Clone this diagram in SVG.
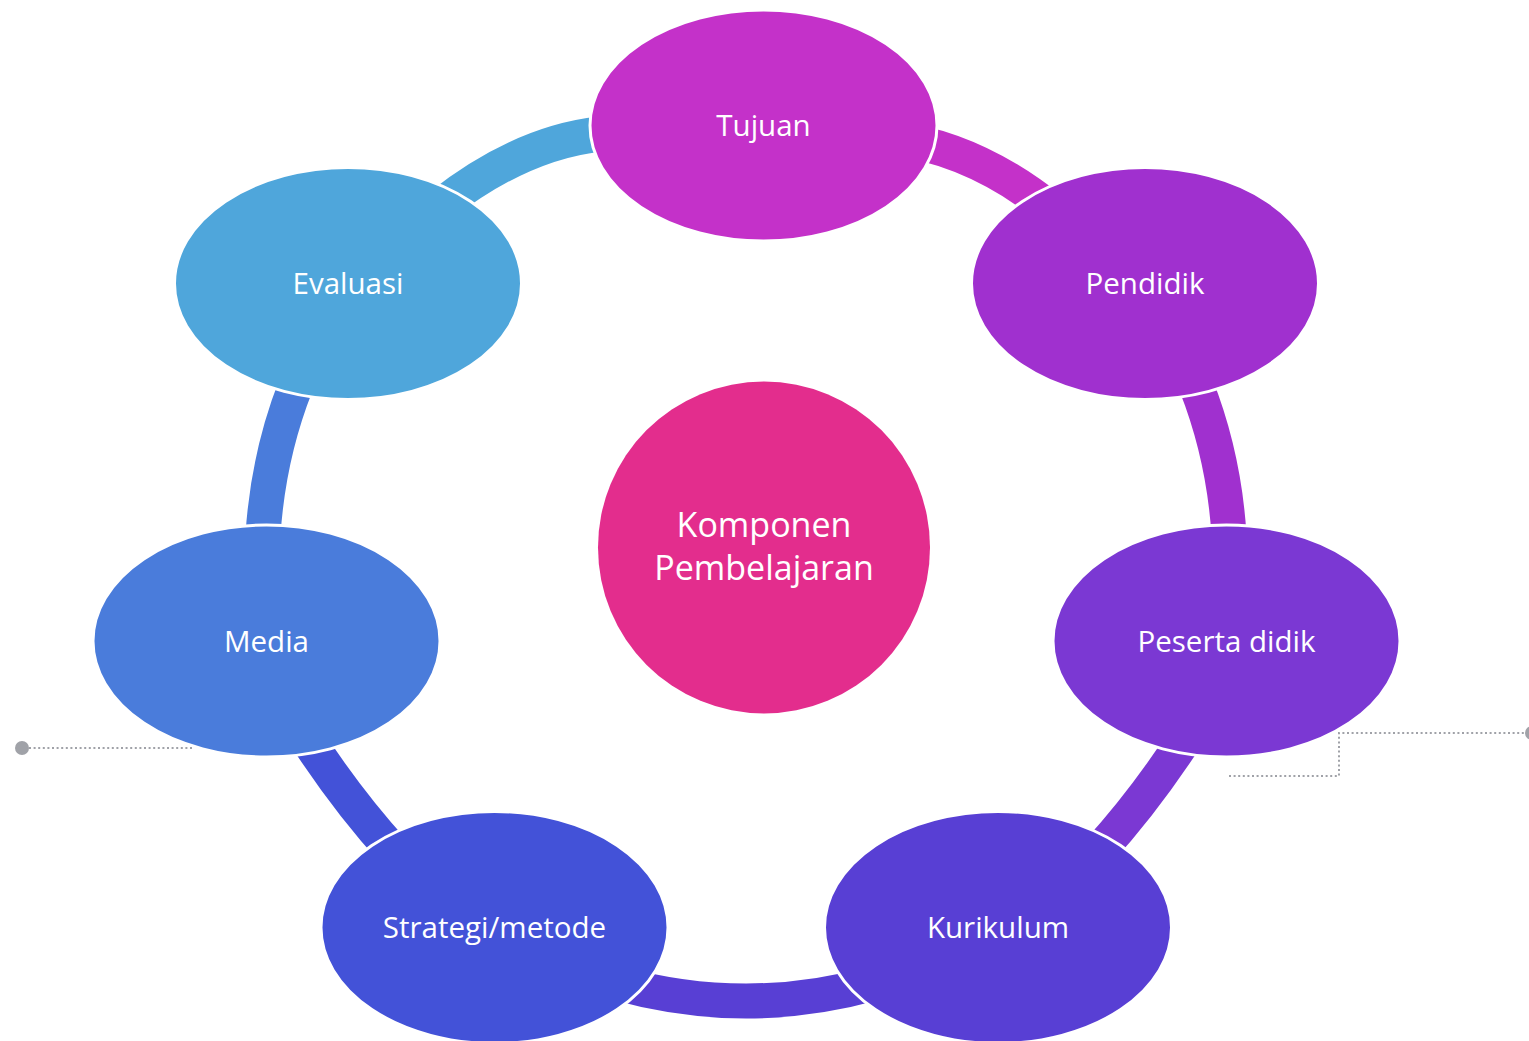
<svg xmlns="http://www.w3.org/2000/svg" width="1529" height="1041" viewBox="0 0 1529 1041">
<style>
.arc{fill:none;stroke-width:35;stroke-linecap:butt}
.node{stroke:#ffffff;stroke-width:3}
.lbl{font-family:"Open Sans","Noto Sans","Liberation Sans",sans-serif;fill:#ffffff;text-anchor:middle;font-size:29.5px}
.big{font-size:34px}
.dot{fill:none;stroke:#A0A2A8;stroke-width:2;stroke-dasharray:2 2.6}
</style>
<rect width="1529" height="1041" fill="#ffffff"/>
<g id="decor">
<path class="dot" d="M29 748 H192"/>
<circle cx="22" cy="748" r="7" fill="#A0A2A8"/>
<path class="dot" d="M1229 776 H1339 V733 H1529"/>
<circle cx="1532" cy="733" r="7" fill="#A0A2A8"/>
</g>
<g id="connectors">
<path class="arc" stroke="#4FA6DB" d="M440 206 Q520 143 600 134"/>
<path class="arc" stroke="#C431C9" d="M892 138 Q975 148 1052 210"/>
<path class="arc" stroke="#A030CF" d="M1196 385 Q1224 456 1229 535"/>
<path class="arc" stroke="#7B38D3" d="M1192 728 Q1146.5 799 1098 852"/>
<path class="arc" stroke="#583FD4" d="M875 983 Q746 1019 617 983"/>
<path class="arc" stroke="#4352D8" d="M394 852 Q345.5 799 300 728"/>
<path class="arc" stroke="#4A7CDB" d="M263 535 Q268 456 296 385"/>
</g>
<g id="center">
<circle cx="764" cy="547.5" r="166" fill="#E32D8D"/>
<text class="lbl big" x="764" y="537">Komponen</text>
<text class="lbl big" x="764" y="580">Pembelajaran</text>
</g>
<g id="tujuan">
<ellipse class="node" cx="763.5" cy="125.5" rx="173.5" ry="115.5" fill="#C431C9"/>
<text class="lbl" x="763.5" y="135.5">Tujuan</text>
</g>
<g id="pendidik">
<ellipse class="node" cx="1145" cy="283.5" rx="173.5" ry="116" fill="#A030CF"/>
<text class="lbl" x="1145" y="294">Pendidik</text>
</g>
<g id="peserta-didik">
<ellipse class="node" cx="1226.5" cy="641" rx="173.5" ry="116" fill="#7B38D3"/>
<text class="lbl" x="1226.5" y="651.5">Peserta didik</text>
</g>
<g id="kurikulum">
<ellipse class="node" cx="998" cy="927.5" rx="173.5" ry="116" fill="#583FD4"/>
<text class="lbl" x="998" y="938">Kurikulum</text>
</g>
<g id="strategi-metode">
<ellipse class="node" cx="494.5" cy="927.5" rx="173.5" ry="116" fill="#4352D8"/>
<text class="lbl" x="494.5" y="938">Strategi/metode</text>
</g>
<g id="media">
<ellipse class="node" cx="266.5" cy="641" rx="173.5" ry="116" fill="#4A7CDB"/>
<text class="lbl" x="266.5" y="651.5">Media</text>
</g>
<g id="evaluasi">
<ellipse class="node" cx="348" cy="283.5" rx="173.5" ry="116" fill="#4FA6DB"/>
<text class="lbl" x="348" y="294">Evaluasi</text>
</g>
</svg>
